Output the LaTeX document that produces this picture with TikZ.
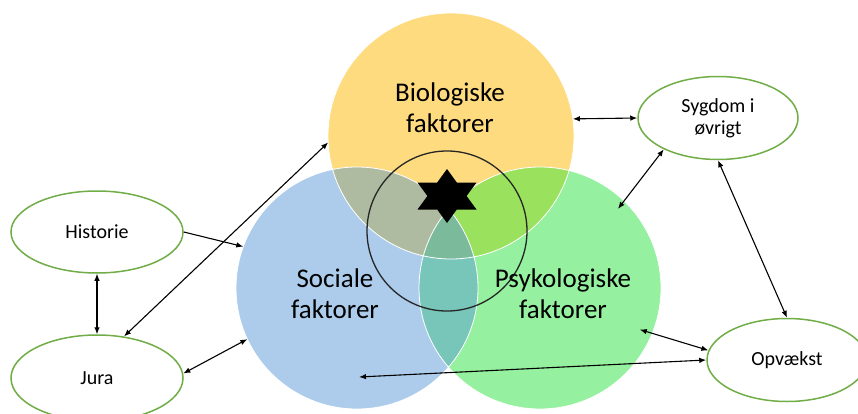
\documentclass[tikz,border=0pt]{standalone}
\usepackage{fontspec}
\setmainfont{Carlito}
\usetikzlibrary{shapes.geometric,arrows.meta}

\definecolor{bioyellow}{HTML}{FFDB7F}
\definecolor{socblue}{HTML}{ADCCEB}
\definecolor{psygreen}{HTML}{95F09F}
\definecolor{biosoc}{HTML}{AFBBA0}
\definecolor{biopsy}{HTML}{9AE25E}
\definecolor{socpsy}{HTML}{78C6BA}
\definecolor{allthree}{HTML}{7BBB9C}
\definecolor{ovalgreen}{HTML}{70AD47}

\begin{document}
\begin{tikzpicture}[x=1pt,y=-1pt,>={Latex[length=7pt,width=5.5pt]},line width=1.1pt,node distance=146pt,
		factor node/.style={circle,inner sep=0pt,outer sep=0pt},
		side node/.style={ellipse,draw=ovalgreen,line width=1.5pt,minimum width=172pt,minimum height=82pt,
			inner sep=0pt,font=\fontsize{20}{22}\selectfont,align=center},
		big text/.style={font=\fontsize{27}{31}\selectfont,align=center}]
	\useasboundingbox (0,0) rectangle (858,414);

	% the three factors
	\node[factor node, minimum size=242pt, fill=socblue] (soc) at (357,288) {};
	\node[factor node, minimum size=242pt, fill=psygreen] (psy) at (540,288) {};
	\node[factor node, minimum size=246pt, fill=bioyellow] (bio) at (451,136) {};

	% overlaps
	\begin{scope}
		\clip (bio.center) circle (123pt);
		\fill[biosoc] (soc.center) circle (121pt);
		\fill[biopsy] (psy.center) circle (121pt);
	\end{scope}
	\begin{scope}
		\clip (soc.center) circle (121pt);
		\fill[socpsy] (psy.center) circle (121pt);
		\clip (bio.center) circle (123pt);
		\fill[allthree] (psy.center) circle (121pt);
	\end{scope}
	\draw[white,line width=0.8pt] (bio.center) circle (123pt) (soc.center) circle (121pt) (psy.center) circle (121pt);

	% ring and star in the middle
	\node[circle,draw=black!85,line width=1.3pt,minimum size=160pt,inner sep=0pt] (ring) at (447,231) {};
	\fill (447,169) -- (456.8,182.5) -- (476.5,182.5) -- (466.6,196) -- (476.5,209.5) -- (456.8,209.5)
		-- (447,223) -- (437.2,209.5) -- (417.5,209.5) -- (427.4,196) -- (417.5,182.5) -- (437.2,182.5) -- cycle;

	\node[big text] (biotxt) at (450,108) {Biologiske\\faktorer};
	\node[big text] (soctxt) at (335,294) {Sociale\\faktorer};
	\node[big text] (psytxt) at (563,294) {Psykologiske\\faktorer};

	% the outer ovals
	\node[side node] (hist) at (97,232) {Historie};
	\node[side node, minimum height=86pt] (jura) [below of=hist] {Jura};
	\node[side node, minimum width=160pt, minimum height=83pt] (syg) at (718,118) {Sygdom i\\øvrigt};
	\node[side node, minimum width=160pt, minimum height=83pt] (opv) at (787,360) {Opvækst};
	\coordinate (socin) at (359,377);

	\path[<->]
		(hist.east) edge[->] (soc.160)
		(hist) edge (jura)
		(jura.57) edge (bio.183)
		(jura.3) edge (soc.205)
		(bio.8) edge (syg.west)
		(syg.210) edge[shorten >=-10pt] (psy.46)
		(syg.south) edge (opv.north)
		(opv.173) edge[shorten >=-13pt] (psy.338)
		(opv.west) edge (socin);
\end{tikzpicture}
\end{document}
